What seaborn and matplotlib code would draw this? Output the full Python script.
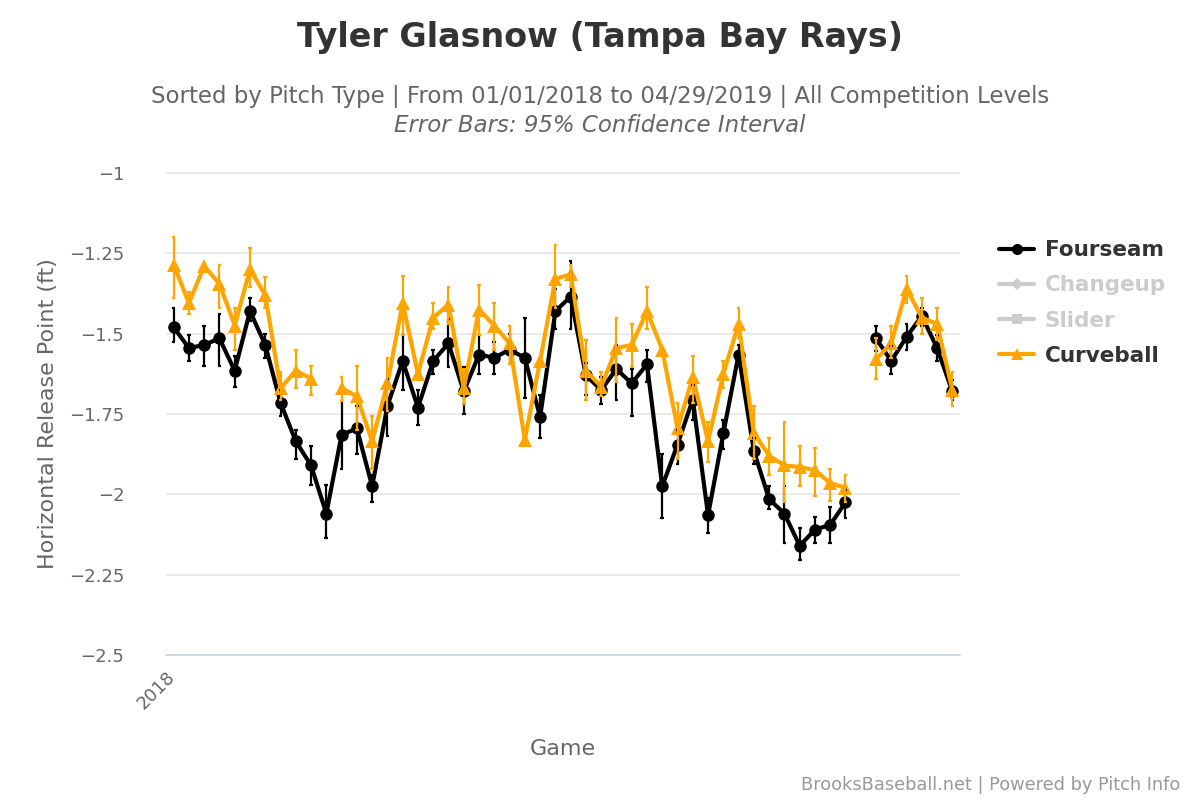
import numpy as np
import pandas as pd
import matplotlib
matplotlib.use("Agg")
import matplotlib.pyplot as plt
import matplotlib.transforms as mtransforms
from matplotlib.lines import Line2D
import seaborn as sns

nan = np.nan

games = list(range(52))
tick_positions = [0]
tick_labels = ["2018"]

fourseam = [-1.48, -1.545, -1.535, -1.515, -1.615, -1.43, -1.535, -1.715, -1.835, -1.91,
            -2.06, -1.815, -1.795, -1.975, -1.725, -1.585, -1.73, -1.585, -1.53, -1.68,
            -1.565, -1.575, -1.55, -1.575, -1.76, -1.43, -1.385, -1.63, -1.675, -1.61,
            -1.655, -1.595, -1.975, -1.845, -1.705, -2.065, -1.81, -1.565, -1.865, -2.015,
            -2.06, -2.16, -2.11, -2.095, -2.025, nan, -1.515, -1.585, -1.51, -1.445,
            -1.545, -1.68]
fourseam_hi = [-1.42, -1.505, -1.475, -1.44, -1.57, -1.39, -1.50, -1.675, -1.80, -1.85,
               -1.97, -1.71, -1.725, -1.94, -1.64, -1.505, -1.675, -1.55, -1.455, -1.605,
               -1.505, -1.525, -1.50, -1.45, -1.69, -1.36, -1.275, -1.59, -1.635, -1.535,
               -1.61, -1.55, -1.875, -1.80, -1.66, -2.01, -1.77, -1.535, -1.825, -1.975,
               -1.975, -2.105, -2.07, -2.04, -1.985, nan, -1.475, -1.54, -1.47, -1.42,
               -1.505, -1.645]
fourseam_lo = [-1.525, -1.585, -1.60, -1.60, -1.665, -1.46, -1.575, -1.755, -1.89, -1.97,
               -2.135, -1.92, -1.875, -2.025, -1.82, -1.675, -1.785, -1.625, -1.605, -1.75,
               -1.625, -1.625, -1.595, -1.70, -1.825, -1.485, -1.485, -1.69, -1.72, -1.705,
               -1.755, -1.65, -2.075, -1.905, -1.77, -2.12, -1.86, -1.59, -1.905, -2.045,
               -2.15, -2.205, -2.15, -2.15, -2.075, nan, -1.555, -1.625, -1.55, -1.475,
               -1.585, -1.705]

curveball = [-1.285, -1.405, -1.29, -1.345, -1.475, -1.30, -1.38, -1.67, -1.615, -1.64,
             nan, -1.67, -1.695, -1.835, -1.655, -1.405, -1.625, -1.45, -1.41, -1.67,
             -1.425, -1.475, -1.53, -1.83, -1.585, -1.33, -1.315, -1.615, -1.665, -1.545,
             -1.535, -1.43, -1.55, -1.795, -1.635, -1.835, -1.625, -1.47, -1.81, -1.88,
             -1.91, -1.915, -1.925, -1.965, -1.98, nan, -1.58, -1.53, -1.36, -1.45,
             -1.47, -1.675]
curveball_hi = [-1.20, -1.37, nan, -1.285, -1.42, -1.235, -1.325, -1.62, -1.55, -1.60,
                nan, -1.635, -1.60, -1.755, -1.575, -1.32, nan, -1.405, -1.355, -1.61,
                -1.35, -1.405, -1.475, nan, nan, -1.225, -1.285, -1.52, -1.62, -1.45,
                -1.47, -1.355, nan, -1.715, -1.57, -1.775, -1.585, -1.42, -1.725, -1.825,
                -1.775, -1.85, -1.855, -1.92, -1.94, nan, -1.515, -1.475, -1.32, -1.39,
                -1.42, -1.62]
curveball_lo = [-1.39, -1.44, nan, -1.42, -1.55, -1.355, -1.42, -1.705, -1.67, -1.69,
                nan, -1.71, -1.80, -1.92, -1.74, -1.505, nan, -1.485, -1.47, -1.72,
                -1.505, -1.55, -1.595, nan, nan, -1.42, -1.355, -1.705, -1.695, -1.65,
                -1.605, -1.485, nan, -1.89, -1.715, -1.90, -1.67, -1.515, -1.89, -1.94,
                -2.025, -1.975, -2.005, -2.02, -2.025, nan, -1.64, -1.575, -1.405, -1.50,
                -1.52, -1.725]

legend_names = ["Fourseam", "Changeup", "Slider", "Curveball"]

BLACK = "#000000"
ORANGE = "#FFA500"
GREY = "#CCCCCC"

sns.set_theme(style="white")
plt.rcParams['font.family'] = ['DejaVu Sans']

fig = plt.figure(figsize=(12, 8), dpi=100)
ax = fig.add_axes([166/1200, 1 - 655/800, (960-166)/1200, (655-172)/800])


def make_df(vals, hi, lo):
    df = pd.DataFrame({"game": games, "value": vals, "hi": hi, "lo": lo})
    df["seg"] = df["value"].isna().cumsum()
    return df


def draw(vals, hi, lo, color, marker, msize):
    df = make_df(vals, hi, lo)
    d = df.dropna(subset=["value"])
    sns.lineplot(data=d, x="game", y="value", units="seg", estimator=None,
                 color=color, lw=3.0, marker=marker, markersize=msize,
                 markeredgewidth=0, ax=ax, legend=False, sort=False, zorder=3)
    e = df.dropna(subset=["hi", "lo"])
    ax.vlines(e["game"], e["lo"], e["hi"], color=color, lw=1.6, zorder=4)
    ax.hlines(e["hi"], e["game"] - 0.12, e["game"] + 0.12, color=color, lw=1.6, zorder=4)
    ax.hlines(e["lo"], e["game"] - 0.12, e["game"] + 0.12, color=color, lw=1.6, zorder=4)


draw(fourseam, fourseam_hi, fourseam_lo, BLACK, "o", 9)
draw(curveball, curveball_hi, curveball_lo, ORANGE, "^", 10)

ax.set_xlim(-0.5, 51.5)
ax.set_ylim(-2.5, -0.997)
ax.set_yticks([-2.5, -2.25, -2.0, -1.75, -1.5, -1.25, -1.0])
ax.set_yticklabels(["\u22122.5", "\u22122.25", "\u22122", "\u22121.75", "\u22121.5", "\u22121.25", "\u22121"])
ax.grid(axis="y", color="#E6E6E6", lw=1.2)
ax.set_axisbelow(True)
for s in ["top", "right", "left"]:
    ax.spines[s].set_visible(False)
ax.spines["bottom"].set_color("#CCD6EB")
ax.spines["bottom"].set_linewidth(1.3)
ax.spines["bottom"].set_zorder(1.5)
ax.tick_params(axis="y", length=0, labelsize=13, labelcolor="#666666", pad=30)
ax.set_xticks(tick_positions)
ax.set_xticklabels(tick_labels, rotation=45, ha="right", rotation_mode="anchor",
                   fontsize=13, color="#666666")
ax.tick_params(axis="x", length=0, pad=9)
offset = mtransforms.ScaledTranslation(-8/100, 0, fig.dpi_scale_trans)
for lbl in ax.get_xticklabels():
    lbl.set_transform(lbl.get_transform() + offset)
ax.set_xlabel("")
ax.set_ylabel("Horizontal Release Point (ft)", fontsize=16, color="#666666", labelpad=8)

fig.text(563/1200, 1 - 749/800, "Game", ha="center", va="center", fontsize=16, color="#666666")
fig.text(0.5, 1 - 38/800, "Tyler Glasnow (Tampa Bay Rays)", ha="center", va="center",
         fontsize=24, fontweight="bold", color="#333333")
fig.text(0.5, 1 - 96/800, "Sorted by Pitch Type | From 01/01/2018 to 04/29/2019 | All Competition Levels",
         ha="center", va="center", fontsize=16.5, color="#666666")
fig.text(0.5, 1 - 126/800, "Error Bars: 95% Confidence Interval", ha="center", va="center",
         fontsize=16.5, color="#666666", style="italic")
fig.text(1180/1200, 1 - 785/800, "BrooksBaseball.net | Powered by Pitch Info", ha="right",
         va="center", fontsize=12.8, color="#999999")

handles = [
    Line2D([], [], color=BLACK, lw=3, marker="o", markersize=8, markeredgewidth=0),
    Line2D([], [], color=GREY, lw=3, marker="D", markersize=6, markeredgewidth=0),
    Line2D([], [], color=GREY, lw=3, marker="s", markersize=7, markeredgewidth=0),
    Line2D([], [], color=ORANGE, lw=3, marker="^", markersize=9, markeredgewidth=0),
]
leg = fig.legend(handles, legend_names, loc="upper left", bbox_to_anchor=(980/1200, 1 - 221/800),
                 frameon=False, handlelength=1.6, handletextpad=0.5, labelspacing=0.7,
                 prop={"size": 15.5, "weight": "bold"})
for t, c in zip(leg.get_texts(), ["#333333", GREY, GREY, "#333333"]):
    t.set_color(c)

fig.savefig("out.png", dpi=100)
